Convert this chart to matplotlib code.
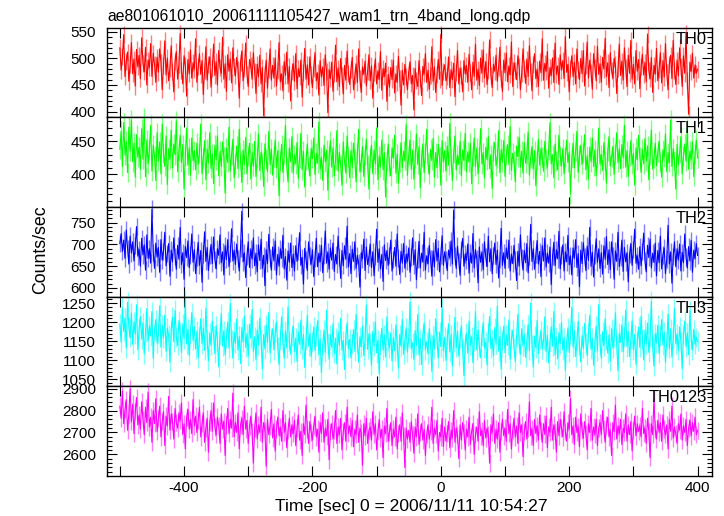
import numpy as np
import matplotlib
matplotlib.use("Agg")
import matplotlib.pyplot as plt
from matplotlib.ticker import MultipleLocator

plt.rcParams['font.family'] = ['Liberation Sans', 'DejaVu Sans']
plt.rcParams['font.size'] = 11

# light curves, 2 s bins from -500 s to +400 s (0 = 2006/11/11 10:54:27)
t_start, t_stop = -500, 400

th0 = [520, 478, 503, 545, 466, 495, 512, 457, 488, 530, 471, 499, 448, 517, 484,
       506, 462, 539, 491, 475, 521, 450, 497, 483, 528, 466, 510, 489, 455, 502,
       474, 518, 493, 441, 487, 533, 469, 501, 458, 482, 524, 476, 437, 495, 513,
       461, 489, 547, 478, 452, 505, 486, 429, 498, 471, 516, 463, 492, 480, 537,
       455, 484, 509, 470, 496, 432, 477, 522, 459, 488, 503, 446, 481, 527, 468,
       494, 450, 515, 483, 472, 540, 461, 490, 438, 507, 476, 499, 454, 520, 485,
       467, 502, 479, 425, 493, 514, 458, 481, 529, 470, 447, 498, 486, 461, 511,
       476, 434, 489, 465, 506, 452, 483, 392, 472, 497, 444, 480, 518, 459, 487,
       463, 501, 448, 478, 530, 456, 471, 439, 494, 468, 512, 452, 485, 420, 475,
       490, 457, 509, 443, 481, 466, 497, 427, 474, 519, 461, 488, 450, 503, 470,
       445, 482, 511, 458, 473, 431, 496, 465, 484, 449, 507, 476, 398, 479, 462,
       493, 438, 471, 525, 456, 482, 447, 500, 468, 433, 487, 459, 514, 472, 451,
       479, 502, 441, 467, 490, 455, 518, 462, 436, 484, 470, 495, 448, 476, 507,
       458, 486, 425, 473, 499, 452, 477, 461, 513, 440, 481, 466, 491, 419, 470,
       446, 483, 460, 497, 435, 471, 455, 504, 462, 412, 478, 450, 489, 466, 441,
       475, 494, 452, 468, 403, 481, 459, 447, 496, 463, 430, 485, 471, 509, 455,
       478, 442, 467, 522, 457, 484, 436, 470, 498, 461, 545, 449, 476, 488, 458,
       466, 503, 445, 479, 460, 491, 428, 474, 515, 452, 482, 467, 437, 496, 471,
       487, 455, 508, 474, 441, 493, 466, 527, 459, 480, 449, 501, 472, 516, 463,
       494, 451, 478, 535, 468, 445, 489, 476, 506, 457, 483, 521, 462, 438, 497,
       473, 510, 456, 486, 469, 531, 447, 492, 478, 460, 505, 484, 441, 471, 518,
       482, 453, 499, 466, 524, 476, 439, 488, 509, 462, 480, 447, 495, 473, 537,
       459, 491, 476, 513, 444, 483, 468, 501, 455, 529, 470, 486, 451, 507, 478,
       496, 462, 541, 474, 489, 437, 481, 505, 466, 493, 452, 518, 479, 460, 500,
       471, 515, 448, 486, 531, 463, 497, 474, 442, 509, 483, 458, 523, 470, 490,
       455, 502, 480, 538, 466, 492, 445, 511, 477, 463, 500, 488, 434, 481, 527,
       468, 495, 459, 520, 483, 447, 506, 472, 534, 461, 489, 452, 515, 476, 498,
       443, 484, 508, 469, 493, 456, 546, 477, 462, 502, 436, 487, 471, 519, 458,
       480, 511, 454, 496, 465, 528, 473, 441, 489, 506, 462, 534, 478, 451, 497,
       467, 520, 485, 447, 505, 472, 548, 459, 395, 493, 476, 510, 463, 488, 472,
       480]

th1 = [438, 465, 412, 478, 429, 450, 403, 471, 435, 482, 419, 447, 396, 460, 426,
       441, 408, 469, 423, 485, 397, 452, 416, 437, 474, 405, 444, 428, 391, 463,
       420, 449, 401, 476, 433, 412, 458, 385, 439, 423, 467, 410, 446, 430, 481,
       404, 436, 459, 418, 445, 378, 428, 470, 414, 440, 399, 455, 421, 436, 407,
       447, 415, 432, 476, 401, 425, 451, 392, 438, 417, 463, 409, 431, 386, 444,
       422, 458, 398, 435, 412, 449, 426, 372, 440, 418, 471, 405, 429, 453, 395,
       416, 443, 409, 468, 421, 388, 437, 415, 456, 401, 428, 447, 393, 433, 412,
       450, 397, 425, 461, 406, 434, 418, 382, 446, 423, 404, 465, 415, 438, 399,
       427, 452, 410, 436, 368, 420, 445, 403, 431, 474, 412, 389, 440, 419, 457,
       402, 430, 416, 448, 394, 425, 462, 407, 435, 381, 421, 446, 413, 398, 439,
       424, 455, 400, 432, 417, 479, 408, 426, 391, 444, 419, 437, 376, 428, 451,
       411, 440, 398, 422, 466, 405, 433, 415, 384, 449, 420, 402, 458, 427, 395,
       436, 410, 447, 423, 389, 431, 468, 404, 418, 442, 397, 429, 453, 414, 378,
       425, 444, 401, 437, 416, 470, 392, 428, 411, 452, 407, 433, 366, 420, 446,
       413, 398, 440, 425, 459, 402, 431, 387, 418, 448, 410, 435, 421, 475, 399,
       429, 452, 408, 437, 393, 424, 461, 415, 442, 380, 426, 446, 403, 432, 468,
       417, 400, 438, 421, 454, 396, 433, 410, 445, 427, 384, 451, 419, 436, 405,
       443, 414, 477, 425, 391, 432, 458, 407, 429, 415, 450, 398, 437, 421, 462,
       404, 434, 419, 447, 386, 428, 455, 412, 440, 401, 426, 469, 416, 433, 395,
       441, 422, 457, 409, 430, 379, 436, 448, 413, 424, 466, 403, 438, 418, 451,
       397, 429, 445, 415, 472, 406, 432, 420, 389, 443, 427, 456, 411, 435, 402,
       448, 417, 431, 464, 399, 425, 442, 408, 436, 383, 421, 453, 414, 439, 426,
       405, 450, 423, 411, 437, 478, 416, 430, 395, 446, 420, 407, 459, 428, 413,
       439, 401, 426, 452, 418, 434, 371, 424, 447, 410, 436, 465, 403, 429, 444,
       415, 433, 460, 407, 428, 393, 441, 419, 455, 412, 437, 398, 424, 470, 416,
       430, 406, 448, 421, 387, 435, 457, 413, 426, 442, 400, 431, 463, 418, 439,
       409, 445, 425, 474, 411, 436, 397, 428, 451, 415, 432, 384, 440, 422, 459,
       427, 403, 438, 416, 454, 420, 443, 392, 430, 467, 408, 425, 447, 413, 434,
       450, 419, 396, 437, 426, 461, 404, 433, 418, 482, 412, 439, 421, 378, 445,
       414, 432, 457, 401, 428, 446, 420, 468, 408, 435, 423, 449, 397, 431, 452,
       425]

th2 = [702, 725, 684, 710, 668, 733, 691, 655, 719, 680, 706, 662, 697, 741, 673,
       688, 650, 714, 676, 699, 641, 722, 668, 690, 657, 781, 682, 645, 703, 671,
       693, 636, 711, 664, 684, 728, 651, 679, 702, 627, 687, 660, 715, 672, 643,
       698, 666, 739, 654, 681, 620, 695, 670, 708, 647, 676, 724, 659, 688, 633,
       671, 705, 652, 686, 613, 678, 729, 661, 693, 640, 674, 700, 656, 717, 666,
       644, 690, 675, 722, 658, 683, 630, 697, 665, 711, 649, 679, 736, 662, 687,
       654, 701, 668, 639, 692, 776, 660, 681, 624, 673, 706, 647, 690, 666, 715,
       651, 680, 637, 699, 663, 712, 645, 675, 605, 688, 656, 723, 669, 641, 694,
       662, 708, 630, 677, 650, 690, 668, 721, 644, 672, 618, 685, 659, 703, 647,
       678, 639, 697, 661, 684, 727, 652, 670, 609, 691, 665, 640, 706, 673, 655,
       688, 626, 669, 714, 649, 680, 660, 698, 635, 674, 731, 657, 683, 643, 692,
       664, 703, 638, 677, 655, 719, 671, 622, 686, 651, 697, 666, 742, 648, 679,
       633, 689, 661, 706, 645, 675, 658, 602, 681, 667, 712, 640, 694, 654, 670,
       701, 647, 683, 628, 672, 735, 659, 690, 644, 677, 615, 699, 663, 686, 652,
       675, 710, 639, 666, 693, 650, 724, 669, 631, 684, 657, 702, 645, 678, 661,
       692, 636, 671, 715, 653, 688, 619, 665, 707, 646, 680, 660, 728, 641, 674,
       656, 698, 668, 627, 685, 648, 711, 662, 691, 637, 676, 720, 652, 683, 665,
       640, 687, 670, 708, 655, 779, 673, 645, 696, 661, 629, 689, 714, 650, 678,
       663, 701, 634, 680, 657, 725, 646, 688, 668, 612, 694, 659, 683, 642, 706,
       671, 649, 719, 660, 690, 633, 675, 703, 654, 687, 623, 666, 737, 652, 681,
       645, 692, 667, 710, 639, 678, 656, 698, 664, 617, 684, 650, 722, 669, 641,
       686, 658, 702, 635, 673, 746, 661, 690, 643, 677, 709, 655, 684, 626, 697,
       662, 715, 648, 680, 657, 694, 608, 672, 705, 651, 688, 667, 730, 644, 676,
       699, 639, 683, 660, 721, 653, 674, 630, 692, 668, 711, 647, 679, 603, 687,
       656, 704, 671, 640, 696, 663, 739, 650, 682, 625, 676, 713, 659, 690, 645,
       681, 632, 697, 666, 718, 654, 688, 642, 706, 673, 620, 685, 661, 728, 649,
       670, 710, 638, 693, 660, 681, 614, 677, 702, 652, 689, 735, 657, 674, 643,
       695, 651, 684, 726, 663, 637, 698, 670, 712, 646, 680, 659, 703, 628, 686,
       658, 719, 644, 676, 692, 633, 667, 744, 655, 683, 611, 672, 706, 649, 690,
       664, 701, 639, 682, 658, 724, 671, 646, 695, 662, 709, 636, 687, 668, 702,
       675]

th3 = [1195, 1148, 1238, 1176, 1211, 1133, 1252, 1187, 1160, 1224, 1142, 1201, 1169, 1246, 1128,
       1183, 1215, 1156, 1198, 1117, 1173, 1236, 1151, 1190, 1164, 1228, 1105, 1180, 1207, 1146,
       1170, 1243, 1135, 1192, 1158, 1219, 1124, 1185, 1166, 1095, 1177, 1213, 1149, 1231, 1162,
       1139, 1204, 1174, 1121, 1196, 1157, 1258, 1143, 1182, 1113, 1168, 1225, 1152, 1189, 1130,
       1176, 1107, 1161, 1209, 1144, 1185, 1126, 1237, 1155, 1099, 1172, 1140, 1203, 1164, 1118,
       1191, 1150, 1083, 1167, 1222, 1137, 1178, 1115, 1159, 1200, 1132, 1249, 1153, 1106, 1174,
       1145, 1208, 1127, 1163, 1092, 1186, 1148, 1216, 1134, 1170, 1111, 1195, 1158, 1233, 1124,
       1162, 1102, 1179, 1141, 1211, 1154, 1078, 1168, 1130, 1193, 1147, 1226, 1119, 1160, 1183,
       1128, 1173, 1201, 1136, 1089, 1157, 1214, 1145, 1106, 1177, 1132, 1240, 1150, 1116, 1165,
       1190, 1123, 1159, 1097, 1175, 1142, 1206, 1129, 1168, 1081, 1153, 1218, 1137, 1171, 1110,
       1149, 1187, 1126, 1164, 1204, 1114, 1156, 1068, 1140, 1179, 1121, 1232, 1146, 1103, 1167,
       1134, 1196, 1118, 1158, 1091, 1175, 1139, 1210, 1127, 1152, 1076, 1166, 1198, 1131, 1155,
       1107, 1143, 1181, 1124, 1221, 1148, 1095, 1162, 1136, 1190, 1112, 1157, 1245, 1129, 1170,
       1145, 1087, 1176, 1138, 1201, 1120, 1153, 1065, 1142, 1184, 1127, 1166, 1109, 1214, 1150,
       1133, 1172, 1099, 1159, 1125, 1193, 1141, 1080, 1168, 1137, 1207, 1116, 1154, 1185, 1122,
       1160, 1253, 1131, 1146, 1102, 1178, 1139, 1220, 1114, 1157, 1089, 1167, 1198, 1128, 1149,
       1117, 1183, 1143, 1071, 1164, 1130, 1209, 1152, 1106, 1174, 1136, 1237, 1125, 1161, 1100,
       1155, 1196, 1122, 1168, 1085, 1147, 1213, 1134, 1176, 1111, 1158, 1191, 1129, 1060, 1144,
       1171, 1119, 1203, 1140, 1162, 1094, 1151, 1228, 1127, 1180, 1136, 1107, 1165, 1199, 1132,
       1148, 1088, 1173, 1215, 1131, 1157, 1112, 1186, 1143, 1242, 1124, 1163, 1077, 1152, 1190,
       1120, 1167, 1139, 1206, 1103, 1155, 1179, 1134, 1097, 1160, 1221, 1145, 1116, 1183, 1138,
       1169, 1108, 1150, 1194, 1126, 1250, 1141, 1082, 1164, 1133, 1205, 1118, 1157, 1176, 1130,
       1152, 1214, 1123, 1166, 1093, 1147, 1188, 1137, 1228, 1115, 1161, 1104, 1173, 1144, 1199,
       1127, 1160, 1074, 1150, 1185, 1121, 1168, 1239, 1135, 1178, 1110, 1153, 1202, 1139, 1096,
       1165, 1131, 1197, 1146, 1113, 1172, 1218, 1129, 1158, 1087, 1149, 1190, 1125, 1246, 1142,
       1106, 1175, 1138, 1209, 1154, 1119, 1167, 1098, 1183, 1132, 1160, 1225, 1141, 1073, 1171,
       1147, 1193, 1123, 1161, 1232, 1136, 1176, 1110, 1155, 1204, 1128, 1168, 1090, 1150, 1187,
       1134, 1216, 1157, 1101, 1179, 1143, 1198, 1121, 1162, 1255, 1137, 1085, 1170, 1146, 1192,
       1118, 1164, 1207, 1140, 1174, 1095, 1152, 1221, 1131, 1183, 1109, 1158, 1236, 1144, 1169,
       1126, 1188, 1149, 1078, 1166, 1203, 1136, 1172, 1115, 1230, 1155, 1127, 1181, 1142, 1160,
       1150]

th0123 = [2820, 2765, 2890, 2740, 2805, 2850, 2710, 2785, 2900, 2750, 2830, 2695, 2795, 2860, 2735,
          2780, 2715, 2840, 2760, 2690, 2815, 2745, 2885, 2725, 2770, 2655, 2800, 2740, 2855, 2705,
          2765, 2820, 2680, 2750, 2795, 2640, 2775, 2730, 2865, 2710, 2785, 2750, 2670, 2810, 2745,
          2720, 2790, 2755, 2835, 2690, 2740, 2625, 2770, 2805, 2715, 2760, 2695, 2850, 2730, 2775,
          2700, 2755, 2815, 2680, 2740, 2790, 2655, 2720, 2765, 2610, 2745, 2800, 2705, 2835, 2725,
          2690, 2770, 2730, 2650, 2785, 2715, 2750, 2595, 2735, 2810, 2695, 2760, 2720, 2880, 2680,
          2745, 2700, 2790, 2625, 2735, 2765, 2690, 2820, 2715, 2755, 2650, 2730, 2775, 2705, 2560,
          2720, 2790, 2670, 2735, 2700, 2815, 2655, 2745, 2710, 2545, 2760, 2690, 2730, 2805, 2675,
          2740, 2615, 2715, 2770, 2685, 2725, 2660, 2800, 2700, 2745, 2630, 2710, 2765, 2680, 2735,
          2695, 2755, 2640, 2720, 2780, 2665, 2705, 2595, 2740, 2690, 2825, 2715, 2650, 2750, 2700,
          2665, 2730, 2775, 2680, 2715, 2610, 2745, 2695, 2790, 2655, 2720, 2685, 2760, 2575, 2705,
          2740, 2670, 2710, 2800, 2650, 2725, 2690, 2765, 2620, 2705, 2745, 2660, 2815, 2695, 2730,
          2680, 2755, 2635, 2715, 2690, 2780, 2655, 2720, 2700, 2550, 2740, 2685, 2765, 2650, 2710,
          2725, 2665, 2795, 2690, 2740, 2620, 2705, 2760, 2675, 2715, 2585, 2730, 2695, 2810, 2660,
          2700, 2745, 2640, 2715, 2680, 2770, 2625, 2695, 2735, 2660, 2790, 2685, 2540, 2720, 2670,
          2710, 2655, 2750, 2690, 2605, 2725, 2680, 2785, 2645, 2700, 2740, 2665, 2715, 2595, 2690,
          2735, 2670, 2705, 2815, 2650, 2720, 2690, 2755, 2615, 2700, 2680, 2765, 2635, 2725, 2660,
          2695, 2750, 2630, 2710, 2675, 2800, 2655, 2720, 2690, 2580, 2735, 2665, 2745, 2700, 2620,
          2715, 2680, 2770, 2645, 2705, 2740, 2600, 2690, 2725, 2660, 2795, 2685, 2710, 2640, 2755,
          2675, 2720, 2690, 2560, 2735, 2700, 2785, 2650, 2715, 2670, 2745, 2610, 2705, 2760, 2685,
          2720, 2660, 2805, 2695, 2740, 2625, 2710, 2765, 2680, 2730, 2650, 2790, 2700, 2735, 2590,
          2705, 2750, 2670, 2720, 2840, 2685, 2715, 2640, 2760, 2695, 2730, 2665, 2780, 2710, 2655,
          2740, 2690, 2775, 2630, 2725, 2700, 2815, 2665, 2735, 2705, 2610, 2750, 2685, 2760, 2720,
          2680, 2795, 2705, 2660, 2745, 2715, 2855, 2690, 2730, 2645, 2770, 2700, 2725, 2635, 2785,
          2710, 2675, 2750, 2695, 2620, 2740, 2700, 2810, 2665, 2725, 2690, 2760, 2640, 2720, 2745,
          2690, 2800, 2715, 2655, 2735, 2770, 2680, 2710, 2595, 2745, 2705, 2825, 2670, 2730, 2695,
          2760, 2645, 2720, 2700, 2785, 2660, 2735, 2690, 2750, 2615, 2710, 2775, 2685, 2740, 2705,
          2730, 2680, 2810, 2695, 2720, 2650, 2765, 2705, 2585, 2740, 2690, 2850, 2715, 2670, 2755,
          2700, 2745, 2660, 2780, 2715, 2690, 2735, 2625, 2760, 2705, 2820, 2675, 2725, 2695, 2650,
          2740, 2710, 2785, 2665, 2730, 2700, 2760, 2640, 2720, 2755, 2685, 2745, 2705, 2770, 2690,
          2710]

series = [th0, th1, th2, th3, th0123]
names = ['TH0', 'TH1', 'TH2', 'TH3', 'TH0123']
errs = [16, 15, 20, 26, 40]
colors = ['#ff0000', '#00ff00', '#0000ff', '#00ffff', '#ff00ff']
ylims = [(389, 558), (351, 486), (580, 786), (1032, 1267), (2501, 2911)]
ymajor = [50, 50, 50, 50, 100]
yminor = [10, 10, 10, 10, 20]

fig = plt.figure(figsize=(7.24, 5.16), dpi=100)
left, right = 107 / 724, 711.7 / 724
bottom, top = 1 - 476 / 516, 1 - 27.7 / 516
h = (top - bottom) / 5

for i in range(5):
    ax = fig.add_axes([left, top - (i + 1) * h, right - left, h])
    y = np.array(series[i])
    t = np.linspace(t_start, t_stop, len(y))
    ax.errorbar(t, y, yerr=errs[i], fmt='none', ecolor=colors[i],
                elinewidth=1.0, alpha=0.5, clip_on=False, zorder=1)
    ax.plot(t, y, color=colors[i], lw=0.8, clip_on=False, zorder=2)
    ax.set_xlim(-520, 422)
    ax.set_ylim(*ylims[i])
    ax.yaxis.set_major_locator(MultipleLocator(ymajor[i]))
    ax.yaxis.set_minor_locator(MultipleLocator(yminor[i]))
    ax.set_xticks(range(-500, 401, 100))
    if i == 4:
        ax.set_xticklabels([str(v) if v % 200 == 0 else '' for v in range(-500, 401, 100)])
    else:
        ax.set_xticklabels([])
    ax.tick_params(which='both', direction='in', top=True, right=True,
                   labelsize=11, width=0.8)
    ax.tick_params(which='major', length=7)
    ax.tick_params(which='minor', length=3.5)
    ax.tick_params(axis='y', which='major', pad=8)
    for s in ax.spines.values():
        s.set_linewidth(1.0)
        s.set_zorder(5)
    ax.text(0.992, 0.955, names[i], transform=ax.transAxes,
            ha='right', va='top', fontsize=11.8, zorder=6)

fig.text(left, 1 - 21 / 516, 'ae801061010_20061111105427_wam1_trn_4band_long.qdp',
         ha='left', va='baseline', fontsize=11.3)
fig.text(41 / 724, 1 - 250 / 516, 'Counts/sec', rotation=90,
         ha='center', va='center', fontsize=12.8)
fig.text(411 / 724, 1 - 507 / 516, 'Time [sec] 0 = 2006/11/11 10:54:27',
         ha='center', va='center', fontsize=12.6)

fig.savefig('out.png', dpi=100)
